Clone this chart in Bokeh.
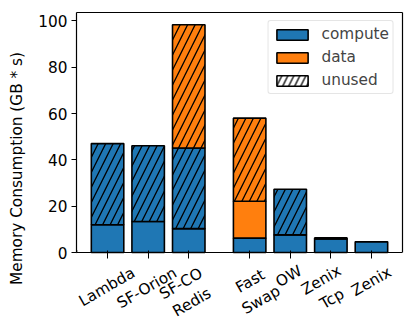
import numpy as np
from bokeh.plotting import figure
from bokeh.models import (Range1d, FixedTicker, Legend, LegendItem, ColumnDataSource, Label,
                          LinearAxis)
from bokeh.embed import file_html
from bokeh.resources import INLINE

# ---- data ----
categories = ["Lambda", "SF-Orion", "SF-CO\nRedis", "Fast\nSwap", "OW", "Zenix\nTcp", "Zenix"]
positions = [0, 1, 2, 3.5, 4.5, 5.5, 6.5]
compute = [12.0, 13.4, 10.3, 6.2, 7.6, 5.8, 4.6]
unused_compute = [35.0, 32.7, 34.8, 0.0, 19.7, 0.0, 0.0]
data = [0.0, 0.0, 0.0, 15.9, 0.0, 0.5, 0.0]
unused_data = [0.0, 0.0, 53.2, 35.9, 0.0, 0.0, 0.0]
y_ticks = [0, 20, 40, 60, 80, 100]

# ---- style / layout ----
BLUE = "#1f77b4"
ORANGE = "#ff7f0e"
FS = "15.3px"
FONT = "DejaVu Sans"
Y_TOP = 103.6
Y_BOTTOM = -31.08          # extra room under y=0 for the rotated category labels
# screen offsets (px) of the rotated tick-label centres from (tick, y=0)
label_dx = [-0.7, -1.3, -2.3, 6.0, -1.5, -4.2, 0]
label_dy = [-34.5, -35.5, -40.5, -38, -24, -37, -29]

p = figure(frame_width=326, frame_height=312, output_backend="svg", toolbar_location=None,
           min_border_left=76, min_border_right=4, min_border_top=12, min_border_bottom=0,
           x_range=Range1d(-0.765, 7.265), y_range=Range1d(Y_BOTTOM, Y_TOP))
p.grid.visible = False
p.outline_line_color = None
p.background_fill_color = "white"
p.border_fill_color = "white"

segments = [
    ("compute", compute, BLUE, None),
    ("unused_compute", unused_compute, BLUE, "/"),
    ("data", data, ORANGE, None),
    ("unused_data", unused_data, ORANGE, "/"),
]
bottom = np.zeros(len(positions))
renderers = {}
for name, vals, color, hatch in segments:
    vals = np.array(vals, dtype=float)
    mask = vals > 0
    src = ColumnDataSource(dict(x=np.array(positions)[mask], bottom=bottom[mask], top=(bottom + vals)[mask]))
    kw = dict(hatch_pattern=hatch, hatch_color="black", hatch_scale=15, hatch_weight=1.3) if hatch else {}
    r = p.vbar(x="x", bottom="bottom", top="top", width=0.8, source=src,
               fill_color=color, line_color="black", line_width=1.6, **kw)
    renderers[name] = r
    bottom = bottom + vals

# legend proxy for "unused" (placed outside the visible x range)
dummy = p.vbar(x=[-50], bottom=[0], top=[1], width=0.8, fill_color="white", line_color="black",
               line_width=1.6, hatch_pattern="/", hatch_color="black", hatch_scale=12, hatch_weight=1.3)

legend = Legend(items=[
    LegendItem(label="compute", renderers=[renderers["compute"]]),
    LegendItem(label="data", renderers=[renderers["data"]]),
    LegendItem(label="unused", renderers=[dummy]),
], location="top_right")
legend.label_text_font = FONT
legend.label_text_font_size = FS
legend.glyph_width = 39
legend.glyph_height = 13
legend.label_height = 18
legend.spacing = 5
legend.padding = 4
legend.margin = 8
legend.label_standoff = 10
legend.border_line_color = "#cccccc"
legend.border_line_width = 1
legend.border_radius = 3
legend.background_fill_alpha = 0.8
p.add_layout(legend)

# axes
p.xaxis.fixed_location = 0
p.xaxis.ticker = FixedTicker(ticks=positions)
p.xaxis.major_label_overrides = {pos: "" for pos in positions}
p.xaxis.major_label_text_font_size = "0px"
p.yaxis.ticker = FixedTicker(ticks=y_ticks)
p.yaxis.bounds = (0, Y_TOP)
p.yaxis.axis_label = "Memory Consumption (GB * s)"

top_axis = LinearAxis(ticker=FixedTicker(ticks=[]), major_label_text_font_size="0px")
right_axis = LinearAxis(ticker=FixedTicker(ticks=[]), major_label_text_font_size="0px",
                        bounds=(0, Y_TOP))
p.add_layout(top_axis, "above")
p.add_layout(right_axis, "right")

for ax in (p.xaxis[0], p.yaxis[0], top_axis, right_axis):
    ax.major_label_text_font = FONT
    ax.major_label_text_color = "black"
    ax.axis_label_text_font = FONT
    ax.axis_label_text_font_size = FS
    ax.axis_label_text_font_style = "normal"
    ax.axis_label_text_color = "black"
    ax.minor_tick_line_color = None
    ax.major_tick_out = 5
    ax.major_tick_in = 0
    ax.major_tick_line_width = 1.2
    ax.major_tick_line_color = "black"
    ax.axis_line_color = "black"
    ax.axis_line_width = 1.2
p.yaxis.major_label_text_font_size = FS
p.yaxis.major_label_standoff = 4
p.yaxis.axis_label_standoff = 9

# rotated, centred category labels (matplotlib style rotation=30)
for pos, lab, dx, dy in zip(positions, categories, label_dx, label_dy):
    p.add_layout(Label(x=pos, y=0, x_offset=dx, y_offset=dy, text=lab, angle=np.pi / 6,
                       text_align="center", text_baseline="middle", text_font=FONT,
                       text_font_size=FS, text_color="black", text_line_height=1.2))

open("out.html", "w").write(file_html(p, INLINE))
